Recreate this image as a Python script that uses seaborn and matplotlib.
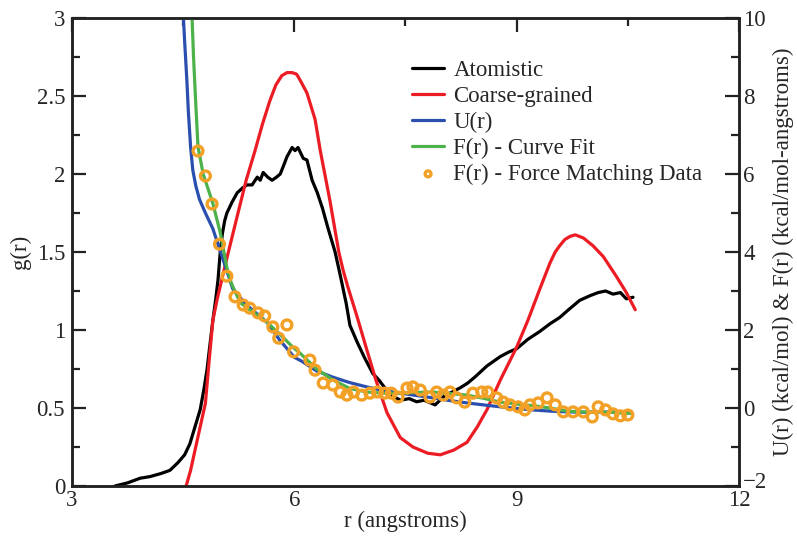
import numpy as np
import pandas as pd
import seaborn as sns
import matplotlib
matplotlib.use("Agg")
import matplotlib.pyplot as plt
import matplotlib.transforms as mtransforms

# g(r) curves (left axis)
r_atom = [3.58, 3.75, 3.92, 4.05, 4.2, 4.32, 4.43, 4.52, 4.59, 4.66, 4.73, 4.78, 4.82,
          4.86, 4.9, 4.94, 4.97, 5.0, 5.03, 5.06, 5.09, 5.16, 5.23, 5.3, 5.36, 5.43, 5.5,
          5.54, 5.58, 5.64, 5.7, 5.76, 5.81, 5.86, 5.9, 5.97, 6.01, 6.05, 6.12, 6.17,
          6.24, 6.31, 6.38, 6.45, 6.55, 6.62, 6.7, 6.75, 6.85, 6.95, 7.06, 7.14, 7.22,
          7.32, 7.43, 7.55, 7.65, 7.75, 7.9, 8.03, 8.12, 8.24, 8.34, 8.44, 8.6, 8.78,
          8.9, 9.0, 9.15, 9.31, 9.45, 9.58, 9.7, 9.85, 9.99, 10.1, 10.2, 10.3, 10.4,
          10.48, 10.57]
g_atom = [0.0, 0.02, 0.05, 0.06, 0.08, 0.1, 0.15, 0.2, 0.27, 0.38, 0.49, 0.62, 0.74,
          0.9, 1.06, 1.2, 1.32, 1.5, 1.62, 1.7, 1.75, 1.82, 1.88, 1.91, 1.93, 1.93, 1.98,
          1.96, 2.01, 1.98, 1.96, 1.98, 2.0, 2.06, 2.11, 2.17, 2.15, 2.17, 2.1, 2.09,
          1.96, 1.88, 1.78, 1.66, 1.5, 1.35, 1.17, 1.03, 0.92, 0.82, 0.72, 0.68, 0.63,
          0.58, 0.55, 0.56, 0.54, 0.55, 0.52, 0.58, 0.6, 0.63, 0.66, 0.7, 0.77, 0.83,
          0.86, 0.88, 0.94, 0.99, 1.04, 1.08, 1.13, 1.19, 1.22, 1.24, 1.25, 1.23, 1.24,
          1.2, 1.21]

r_cg = [4.54, 4.6, 4.66, 4.73, 4.8, 4.85, 4.9, 4.96, 5.02, 5.1, 5.24, 5.35, 5.47, 5.57,
        5.67, 5.75, 5.83, 5.9, 5.97, 6.03, 6.08, 6.17, 6.28, 6.35, 6.48, 6.6, 6.66, 6.72,
        6.85, 6.98, 7.1, 7.25, 7.43, 7.6, 7.8, 7.97, 8.15, 8.33, 8.47, 8.6, 8.78, 9.0,
        9.15, 9.31, 9.45, 9.52, 9.58, 9.65, 9.72, 9.79, 9.9, 10.03, 10.17, 10.35, 10.48,
        10.6]
g_cg = [0.0, 0.1, 0.23, 0.38, 0.53, 0.8, 1.06, 1.2, 1.32, 1.48, 1.75, 1.96, 2.15, 2.32,
        2.47, 2.57, 2.63, 2.65, 2.65, 2.64, 2.6, 2.52, 2.35, 2.15, 1.83, 1.5, 1.38, 1.28,
        1.08, 0.87, 0.68, 0.47, 0.31, 0.25, 0.21, 0.2, 0.23, 0.28, 0.38, 0.49, 0.68, 0.89,
        1.06, 1.26, 1.43, 1.5, 1.54, 1.58, 1.6, 1.61, 1.59, 1.54, 1.47, 1.34, 1.24, 1.13]

# potential / force (right axis)
r_u = [4.49, 4.52, 4.55, 4.57, 4.6, 4.63, 4.67, 4.72, 4.8, 4.9, 5.04, 5.17, 5.35, 5.63,
       5.8, 6.0, 6.1, 6.3, 6.52, 6.75, 6.98, 7.2, 7.43, 7.65, 7.87, 8.1, 8.33, 8.55,
       8.78, 9.0, 9.22, 9.45, 9.68, 9.9, 10.13, 10.35, 10.55]
u_val = [10.5, 9.4, 8.4, 7.6, 6.7, 6.1, 5.7, 5.35, 5.0, 4.6, 3.8, 3.05, 2.65, 2.2,
         1.75, 1.3, 1.2, 0.95, 0.79, 0.65, 0.54, 0.45, 0.38, 0.32, 0.26, 0.19, 0.13,
         0.08, 0.03, -0.01, -0.05, -0.08, -0.1, -0.11, -0.1, -0.11, -0.1]

r_fit = [4.61, 4.64, 4.67, 4.7, 4.77, 4.9, 5.0, 5.09, 5.15, 5.27, 5.45, 5.63, 5.8, 5.98,
         6.08, 6.3, 6.52, 6.75, 6.98, 7.2, 7.43, 7.65, 7.87, 8.1, 8.33, 8.55, 8.78, 9.0,
         9.22, 9.45, 9.68, 9.9, 10.13, 10.35, 10.55]
f_fit = [10.5, 9.0, 7.8, 6.7, 6.0, 5.25, 4.5, 3.6, 3.2, 2.7, 2.45, 2.2, 1.9, 1.56,
         1.4, 1.0, 0.72, 0.5, 0.41, 0.38, 0.38, 0.4, 0.41, 0.37, 0.33, 0.25, 0.15, 0.1,
         0.06, 0.0, -0.08, -0.1, -0.1, -0.12, -0.14]

r_fm = [4.70, 4.80, 4.89, 4.99, 5.09, 5.20, 5.31, 5.40, 5.51, 5.60, 5.71, 5.79, 5.90,
        5.99, 6.21, 6.28, 6.39, 6.52, 6.62, 6.71, 6.80, 6.91, 7.02, 7.12, 7.22, 7.31,
        7.40, 7.52, 7.60, 7.70, 7.83, 7.92, 8.01, 8.10, 8.19, 8.30, 8.41, 8.53, 8.61,
        8.73, 8.82, 8.91, 9.02, 9.11, 9.18, 9.29, 9.41, 9.52, 9.63, 9.76, 9.90, 10.02,
        10.10, 10.2, 10.3, 10.4, 10.5]
f_fm = [6.59, 5.95, 5.23, 4.20, 3.38, 2.85, 2.64, 2.56, 2.44, 2.36, 2.08, 1.79, 2.13,
        1.44, 1.23, 0.97, 0.64, 0.59, 0.41, 0.33, 0.41, 0.33, 0.38, 0.41, 0.38, 0.38,
        0.28, 0.51, 0.54, 0.46, 0.28, 0.41, 0.33, 0.41, 0.26, 0.15, 0.38, 0.41, 0.41,
        0.26, 0.15, 0.08, 0.03, -0.05, 0.08, 0.13, 0.26, 0.08, -0.10, -0.10, -0.10,
        -0.23, 0.03, -0.05, -0.15, -0.2, -0.18]

sns.set_style("white")
plt.rcParams['font.family'] = ['Liberation Serif', 'DejaVu Serif']
fs = 16.5

fig = plt.figure(figsize=(7.97, 5.36), dpi=100)
ax = fig.add_axes([72/797, 1-486/536, (739-72)/797, (486-18)/536])
ax2 = ax.twinx()

sns.lineplot(x=r_atom, y=g_atom, ax=ax, color="black", lw=2.3, label="Atomistic", legend=False)
sns.lineplot(x=r_cg, y=g_cg, ax=ax, color="#ec1c24", lw=2.3, label="Coarse-grained", legend=False)

sns.lineplot(x=r_u, y=u_val, ax=ax2, color="#2b4fae", lw=2.3, label="U(r)", legend=False)
sns.lineplot(x=r_fit, y=f_fit, ax=ax2, color="#4db24a", lw=2.3, label="F(r) - Curve Fit", legend=False)
sns.scatterplot(x=r_fm, y=f_fm, ax=ax2, marker="o", s=50, facecolors="none",
                edgecolors="#f2a126", linewidths=2.4, label="F(r) - Force Matching Data",
                legend=False, zorder=3)

ax.set_xlim(3, 12)
ax.set_ylim(0, 3)
ax2.set_ylim(-2, 10)
ax.set_xticks([3, 6, 9, 12])
ax.set_xticks([4.5, 7.5, 10.5], minor=True)
ax.set_yticks([0, 0.5, 1, 1.5, 2, 2.5, 3])
ax.set_yticklabels(["0", "0.5", "1", "1.5", "2", "2.5", "3"])
ax.set_yticks(np.arange(0.25, 3, 0.5), minor=True)
ax2.set_yticks(range(-2, 11, 2))
ax2.set_yticklabels(["\u22122" if v == -2 else str(v) for v in range(-2, 11, 2)])
ax2.set_yticks(range(-1, 10, 2), minor=True)

for a in (ax, ax2):
    for s in a.spines.values():
        s.set_linewidth(1.8)
        s.set_color("#222222")
ax.tick_params(axis="both", which="both", direction="in", top=True, right=False,
               width=1.6, labelsize=fs, color="#222222")
ax.tick_params(which="major", length=10)
ax.tick_params(which="minor", length=6)
ax.tick_params(axis="y", pad=5)
ax.tick_params(axis="x", pad=3)
ax2.tick_params(axis="y", which="both", direction="in", width=1.6, labelsize=fs, pad=3,
                color="#222222")
ax2.tick_params(axis="y", which="major", length=10)
ax2.tick_params(axis="y", which="minor", length=6)

# raise the bottom right label a little, as in the original
lab = ax2.get_yticklabels()[0]
lab.set_transform(lab.get_transform() + mtransforms.ScaledTranslation(0, 6/100, fig.dpi_scale_trans))

ax.set_xlabel("r (angstroms)", fontsize=fs, labelpad=0)
ax.set_ylabel("g(r)", fontsize=fs, labelpad=4)
ax2.set_ylabel("U(r) (kcal/mol) & F(r) (kcal/mol-angstroms)", fontsize=fs, labelpad=4)

h1, l1 = ax.get_legend_handles_labels()
h2, l2 = ax2.get_legend_handles_labels()
leg = ax2.legend(h1 + h2, l1 + l2, loc="upper left", bbox_to_anchor=(396/797, 1-44/536),
                 bbox_transform=fig.transFigure, frameon=False, fontsize=fs,
                 handlelength=1.4, handletextpad=0.4, labelspacing=0.21, borderpad=0.2,
                 markerscale=0.6)

fig.savefig("out.png", dpi=100)
